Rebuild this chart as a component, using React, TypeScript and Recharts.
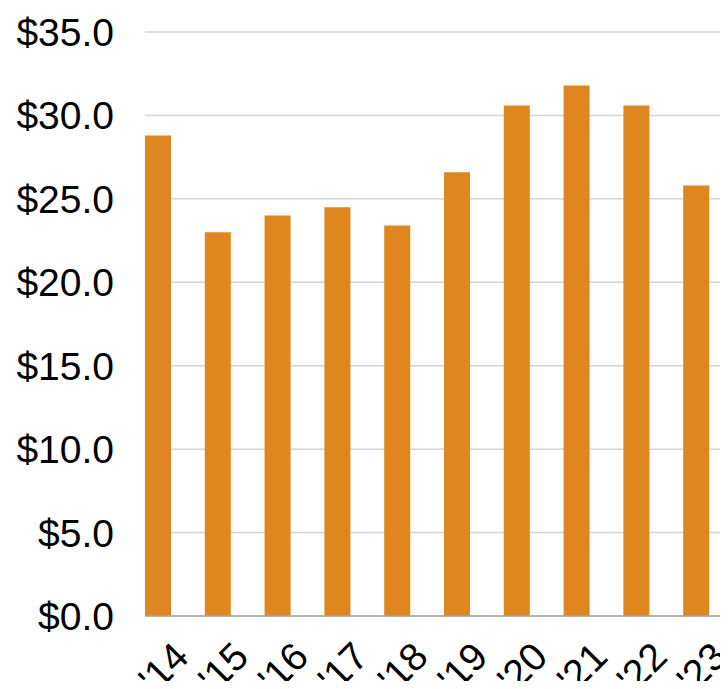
import { Bar, BarChart, CartesianGrid, XAxis, YAxis } from "recharts"

// fiscal years and values
const years = ["'14", "'15", "'16", "'17", "'18", "'19", "'20", "'21", "'22", "'23"]
const values = [28.8, 23.0, 24.0, 24.5, 23.4, 26.6, 30.6, 31.8, 30.6, 25.8]
const yTicks = [0, 5, 10, 15, 20, 25, 30, 35]

const data = years.map((year, i) => ({ year, value: values[i] }))

const FONT = "'Liberation Sans', Arial, sans-serif"

function YTick({ x, y, payload }: any) {
  return (
    <text x={x} y={y + 14} textAnchor="end" fontSize={39} fontFamily={FONT} fill="#000">
      ${Number(payload.value).toFixed(1)}
    </text>
  )
}

function XTick({ x, y, payload }: any) {
  const ax = x + 33
  const ay = y + 35
  return (
    <text x={ax} y={ay} textAnchor="end" fontSize={39} fontFamily={FONT} fill="#000" transform={`rotate(-45, ${ax}, ${ay})`}>
      {payload.value}
    </text>
  )
}

export default function App() {
  return (
    <div style={{ margin: -8, width: 728, height: 689, background: "#fff" }}>
      <BarChart width={728} height={689} data={data} margin={{ top: 32, right: 0, bottom: 0, left: 0 }}>
        <CartesianGrid vertical={false} stroke="#d4d4d4" strokeWidth={1.5} />
        <XAxis
          dataKey="year"
          height={73}
          padding={{ left: -17, right: 2 }}
          tickLine={false}
          axisLine={{ stroke: "#a6a6a6", strokeWidth: 1.5 }}
          tick={<XTick />}
          interval={0}
        />
        <YAxis
          width={145}
          domain={[0, 35]}
          ticks={yTicks}
          axisLine={false}
          tickLine={false}
          tickSize={6}
          tickMargin={25}
          tick={<YTick />}
        />
        <Bar dataKey="value" fill="#df861f" barSize={26} isAnimationActive={false} />
      </BarChart>
    </div>
  )
}
